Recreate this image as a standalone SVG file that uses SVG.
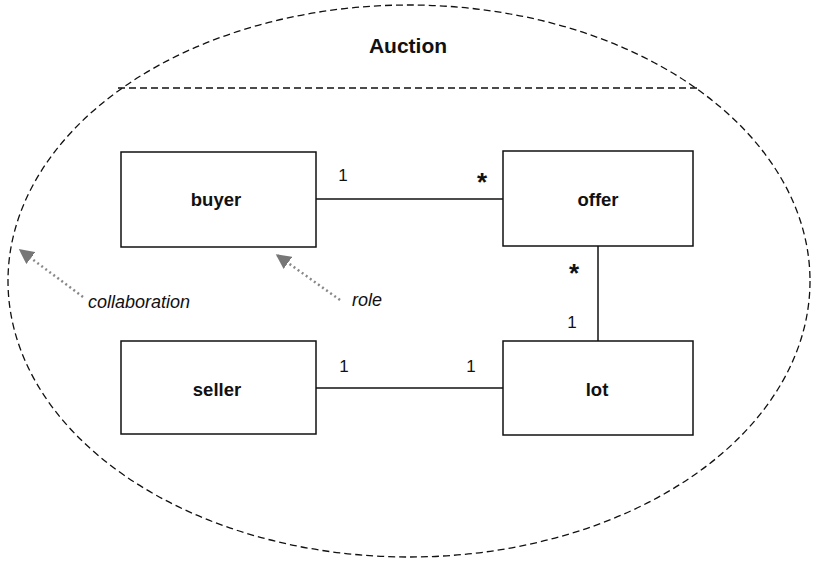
<svg xmlns="http://www.w3.org/2000/svg" width="817" height="562" viewBox="0 0 817 562">
<style>
.dash{fill:none;stroke:#111;stroke-width:1.3;stroke-dasharray:7,4}
.box{fill:#fff;stroke:#111;stroke-width:1.5}
.lbl{font-family:"Liberation Sans",Arial,sans-serif;font-weight:bold;font-size:18.5px;fill:#111;text-anchor:middle}
.mult{font-family:"Liberation Sans",Arial,sans-serif;font-size:17px;fill:#111;text-anchor:middle}
.star{font-family:"Liberation Sans",Arial,sans-serif;font-weight:bold;font-size:26px;fill:#111;text-anchor:middle}
.line{stroke:#111;stroke-width:1.5;fill:none}
.note{stroke:#888;stroke-width:2.5;stroke-dasharray:2,3;fill:none}
.ntxt{font-family:"Liberation Sans",Arial,sans-serif;font-style:italic;font-size:18px;fill:#111}
</style>
<defs>
<marker id="ah" viewBox="0 0 10 10" refX="9" refY="5" markerWidth="6" markerHeight="6" orient="auto" markerUnits="strokeWidth">
<path d="M0,0 L10,5 L0,10 z" fill="#777"/>
</marker>
</defs>
<g id="collab">
<ellipse class="dash" cx="409" cy="281" rx="401" ry="276"/>
<line class="dash" x1="118" y1="88" x2="697" y2="88"/>
<text x="408" y="53" class="lbl" style="font-size:21px">Auction</text>
</g>
<g id="connectors">
<line class="line" x1="316" y1="199" x2="503" y2="199"/>
<line class="line" x1="598" y1="246" x2="598" y2="341"/>
<line class="line" x1="316" y1="388" x2="503" y2="388"/>
<text class="mult" x="343" y="181">1</text>
<text class="star" x="482" y="191">*</text>
<text class="star" x="574" y="282">*</text>
<text class="mult" x="572" y="328">1</text>
<text class="mult" x="344" y="372">1</text>
<text class="mult" x="471" y="372">1</text>
<path class="note" d="M83,297 L20,250" marker-end="url(#ah)"/>
<path class="note" d="M340,300 L277,255" marker-end="url(#ah)"/>
<text class="ntxt" x="88" y="308">collaboration</text>
<text class="ntxt" x="352" y="306">role</text>
</g>
<g id="buyer">
<rect class="box" x="121" y="152" width="195" height="95"/>
<text class="lbl" x="216" y="206">buyer</text>
</g>
<g id="offer">
<rect class="box" x="503" y="151" width="190" height="95"/>
<text class="lbl" x="598" y="206">offer</text>
</g>
<g id="seller">
<rect class="box" x="121" y="341" width="195" height="93"/>
<text class="lbl" x="217" y="396">seller</text>
</g>
<g id="lot">
<rect class="box" x="503" y="341" width="190" height="94"/>
<text class="lbl" x="597" y="396">lot</text>
</g>
</svg>
